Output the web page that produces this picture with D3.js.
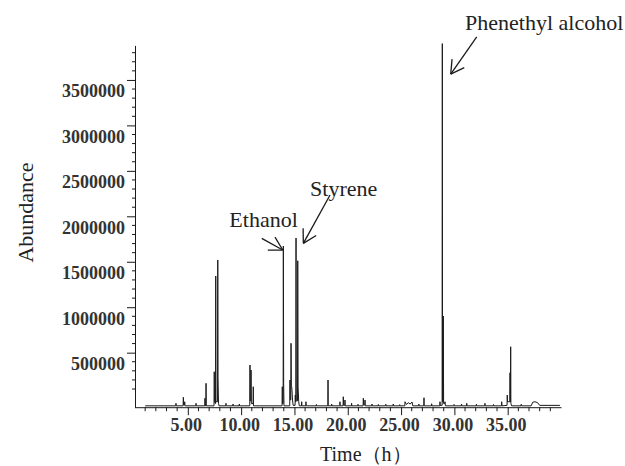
<!DOCTYPE html>
<html><head><meta charset="utf-8">
<script src="https://cdn.jsdelivr.net/npm/d3@7"></script>
<style>body{margin:0;background:#fff}svg{display:block}</style>
</head><body>
<svg id="c" width="625" height="466"></svg>
<script>
// ---- data ----
const traceTime = [
  1.00, 3.87, 3.89, 3.91, 4.56, 4.58, 4.61, 4.69, 4.71, 4.73, 5.75, 5.77, 5.79,
  6.59, 6.61, 6.63, 6.69, 6.71, 6.73,
  7.46, 7.48, 7.50, 7.60, 7.62, 7.64, 7.79, 7.81, 7.83, 7.88, 7.93,
  8.56, 8.58, 8.60, 9.22, 9.24, 9.26, 9.81, 9.83, 9.85,
  10.81, 10.83, 10.85, 10.91, 10.93, 10.96, 11.12, 11.14, 11.16,
  13.84, 13.86, 13.88, 13.94, 13.96, 13.99, 14.02,
  14.56, 14.58, 14.61, 14.66, 14.68, 14.71, 14.74, 14.77, 14.82, 14.88,
  15.06, 15.08, 15.10, 15.13, 15.15, 15.17, 15.29, 15.31, 15.34, 15.40, 15.46,
  15.66, 15.68, 15.70, 16.06, 16.08, 16.10, 17.04, 17.06, 17.08,
  18.13, 18.15, 18.17, 18.47, 18.49, 18.51,
  19.25, 19.27, 19.29, 19.56, 19.58, 19.62, 19.72, 19.74, 19.76,
  20.34, 20.36, 20.38, 20.94, 20.96, 20.98, 21.44, 21.46, 21.50, 21.60, 21.62, 21.64,
  22.25, 22.27, 22.29, 22.85, 22.87, 22.89, 23.55, 23.57, 23.59,
  24.25, 24.27, 24.29, 24.85, 24.87, 24.89,
  25.35, 25.37, 25.50, 25.68, 25.85, 26.03, 26.10,
  26.65, 26.67, 26.69, 27.13, 27.15, 27.17, 27.85, 27.87, 27.89,
  28.63, 28.65, 28.67, 28.85, 28.87, 28.89, 28.94, 28.96, 28.99, 29.10, 29.12, 29.16,
  29.95, 29.97, 29.99, 30.65, 30.67, 30.69, 31.14, 31.16, 31.18,
  32.05, 32.07, 32.09, 32.85, 32.87, 32.89, 33.65, 33.67, 33.69,
  34.42, 34.44, 34.46, 34.94, 34.96, 34.98, 35.20, 35.22, 35.24, 35.26, 35.28, 35.30, 35.36,
  36.25, 36.27, 36.29, 37.20, 37.35, 37.56, 37.80, 38.00, 39.90
];
const traceAbundance = [
  -85000, -85000, -57000, -85000, -85000, 9000, -75000, -75000, -40000, -85000, -85000, -57000, -85000,
  -85000, -2000, -85000, -85000, 163000, -85000,
  -85000, 290000, -40000, -60000, 1343000, -40000, -40000, 1519000, 229000, -60000, -85000,
  -85000, -57000, -85000, -85000, -65000, -85000, -85000, -65000, -85000,
  -85000, 364000, -30000, -30000, 309000, -60000, -60000, 125000, -85000,
  -85000, 125000, -60000, -60000, 1673000, 163000, -85000,
  -85000, 199000, -20000, -20000, 603000, 125000, 125000, 89000, -21000, -80000,
  -80000, 34000, -40000, -40000, 1761000, -30000, -30000, 1511000, 125000, -40000, -85000,
  -85000, -40000, -85000, -85000, -40000, -85000, -85000, -70000, -85000,
  -85000, 199000, -85000, -85000, -65000, -85000,
  -85000, -40000, -85000, -85000, 15000, -80000, -80000, -21000, -85000,
  -85000, -57000, -85000, -85000, -68000, -85000, -85000, -2000, -75000, -75000, -21000, -85000,
  -85000, -65000, -85000, -85000, -70000, -85000, -85000, -68000, -85000,
  -85000, -65000, -85000, -85000, -72000, -85000,
  -85000, -40000, -70000, -51000, -65000, -43000, -85000,
  -85000, -66000, -85000, -85000, 4000, -85000, -85000, -62000, -85000,
  -85000, -40000, -80000, -80000, 3900000, -40000, -40000, 903000, -60000, -60000, -40000, -85000,
  -85000, -70000, -85000, -85000, -66000, -85000, -85000, -57000, -85000,
  -85000, -68000, -85000, -85000, -57000, -85000, -85000, -70000, -85000,
  -85000, -40000, -85000, -80000, 34000, -40000, -40000, 279000, -40000, -40000, 565000, -57000, -85000,
  -85000, -68000, -85000, -85000, -45000, -40000, -50000, -80000, -80000
];
const xTickValues = [5, 10, 15, 20, 25, 30, 35];
const xTickLabels = ["5.00", "10.00", "15.00", "20.00", "25.00", "30.00", "35.00"];
const yTickValues = [500000, 1000000, 1500000, 2000000, 2500000, 3000000, 3500000];
const yTickLabels = ["500000", "1000000", "1500000", "2000000", "2500000", "3000000", "3500000"];
const peakNames = ["Ethanol", "Styrene", "Phenethyl alcohol"];
const peakTimes = [13.96, 15.15, 28.87];
const peakAbundance = [1673000, 1761000, 3900000];
const xTitle = "Time（h）";
const yTitle = "Abundance";

// ---- layout ----
const svg = d3.select("#c");
const x = d3.scaleLinear().domain([0, 40]).range([134.5, 561]);
const y = d3.scaleLinear().domain([-100000, 3880000]).range([407.2, 45.4]);
const serif = "'Liberation Serif','Times New Roman',Times,serif";
const ink = "#1a1a1a";

// trace
const pts = traceTime.map((t, i) => [t, traceAbundance[i]]);
svg.append("path")
  .datum(pts)
  .attr("fill", "none")
  .attr("stroke", ink)
  .attr("stroke-width", 1)
  .attr("stroke-linejoin", "round")
  .attr("d", d3.line().x(d => x(d[0])).y(d => y(d[1])));

// y axis
const yAxis = svg.append("g").attr("transform", "translate(135,0)")
  .call(d3.axisLeft(y).tickValues(yTickValues).tickSize(8).tickSizeOuter(0)
    .tickFormat((d, i) => yTickLabels[i]));
yAxis.select(".domain").attr("stroke", ink);
yAxis.selectAll(".tick line").attr("stroke", ink);
yAxis.selectAll(".tick text")
  .attr("x", -10).attr("y", 17).attr("dy", null)
  .attr("fill", "#333").style("font-family", serif).style("font-size", "18px").style("font-weight", "bold");
const yMinor = d3.range(100000, 3850000, 100000).filter(v => v % 500000 !== 0);
yAxis.selectAll(".minor").data(yMinor).join("line").attr("class", "minor")
  .attr("x1", -3).attr("x2", 0).attr("y1", d => y(d)).attr("y2", d => y(d)).attr("stroke", ink);

// x axis
const xAxis = svg.append("g").attr("transform", `translate(0,${y(-100000)})`)
  .call(d3.axisBottom(x).tickValues(xTickValues).tickSize(8).tickSizeOuter(0)
    .tickFormat((d, i) => xTickLabels[i]));
xAxis.select(".domain").attr("stroke", ink);
xAxis.selectAll(".tick line").attr("stroke", ink);
xAxis.selectAll(".tick text")
  .attr("x", -2).attr("y", 24).attr("dy", null)
  .attr("fill", "#333").style("font-family", serif).style("font-size", "18px").style("font-weight", "bold");
const xMinor = d3.range(1, 41).filter(v => v % 5 !== 0);
xAxis.selectAll(".minor").data(xMinor).join("line").attr("class", "minor")
  .attr("x1", d => x(d)).attr("x2", d => x(d)).attr("y1", 0).attr("y2", d => d === 40 ? 7 : 4).attr("stroke", ink);

// axis titles
svg.append("text").text(xTitle)
  .attr("x", 320).attr("y", 461)
  .attr("fill", "#222").style("font-family", serif).style("font-size", "20px");
svg.append("text").text(yTitle)
  .attr("transform", "translate(33,212.5) rotate(-90)")
  .attr("text-anchor", "middle")
  .attr("fill", "#222").style("font-family", serif).style("font-size", "22px");

// annotations (pixel offsets relative to the scaled peak apex)
const ann = [
  {tip: [-0.6, 4], tail: [-21.6, -7.7], text: [-54, -19.5]},
  {tip: [7.3, 5.3], tail: [34, -43], text: [14, -42.5]},
  {tip: [8.4, 30.5], tail: [34.4, -6.8], text: [22.7, -13.5]}
];
peakNames.forEach((name, i) => {
  const px = x(peakTimes[i]), py = y(peakAbundance[i]);
  const a = ann[i];
  const tx = px + a.tip[0], ty = py + a.tip[1];
  const sx = px + a.tail[0], sy = py + a.tail[1];
  const g = svg.append("g").attr("stroke", ink).attr("stroke-width", 1.3).attr("fill", "none");
  g.append("line").attr("x1", sx).attr("y1", sy).attr("x2", tx).attr("y2", ty);
  const th = Math.atan2(ty - sy, tx - sx);
  [0.52, -0.52].forEach(da => {
    g.append("line").attr("x1", tx).attr("y1", ty)
      .attr("x2", tx + 15 * Math.cos(th + Math.PI + da))
      .attr("y2", ty + 15 * Math.sin(th + Math.PI + da));
  });
  svg.append("text").text(name)
    .attr("x", px + a.text[0]).attr("y", py + a.text[1])
    .attr("fill", "#222").style("font-family", serif).style("font-size", "22px");
});
</script>
</body></html>
